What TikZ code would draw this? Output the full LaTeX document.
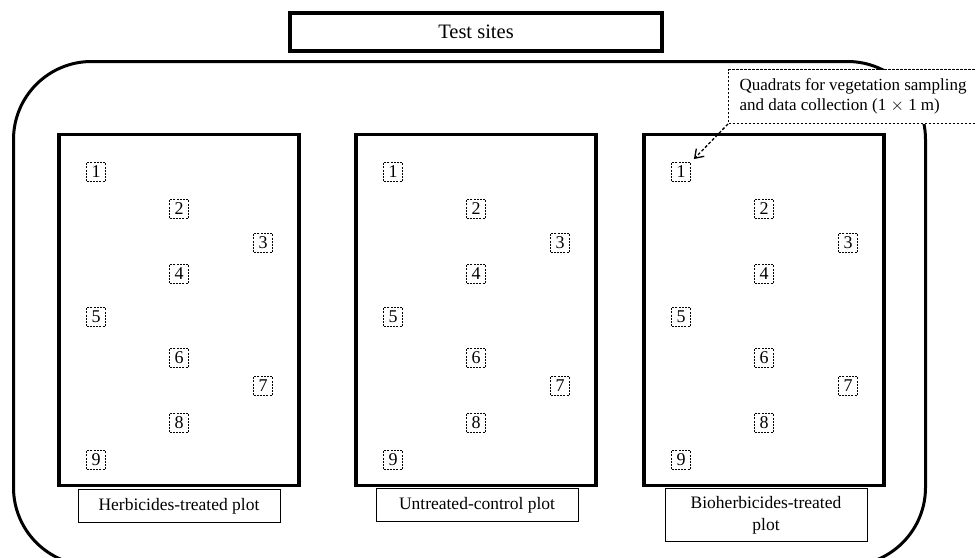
\documentclass[tikz,border=0pt]{standalone}
\usepackage{fontspec}
\setmainfont{Liberation Serif}
\usetikzlibrary{arrows.meta}
\begin{document}
\begin{tikzpicture}[x=1pt,y=-1pt,
  sitebox/.style={draw,line width=3pt,rounded corners=78pt,minimum width=912pt,minimum height=504pt,anchor=north west,inner sep=0pt},
  titlebox/.style={draw,line width=3.5pt,minimum width=372pt,minimum height=38pt,inner sep=0pt,font=\fontsize{20.5}{24}\selectfont},
  plotbox/.style={draw,line width=3.5pt,minimum width=240pt,minimum height=351pt,inner sep=0pt},
  quad/.style={draw,dash pattern=on 2pt off 1.2pt,line width=1.2pt,minimum size=19pt,inner sep=0pt,font=\fontsize{18}{18}\selectfont},
  labelbox/.style={draw,line width=1pt,fill=white,anchor=north,minimum width=202pt,inner sep=0pt,align=center,font=\fontsize{17.5}{22}\selectfont},
  calloutbox/.style={draw,dash pattern=on 2.5pt off 1.5pt,line width=1pt,fill=white,anchor=north west,minimum height=54pt,text width=240pt,inner xsep=11pt,inner ysep=0pt,align=flush left,font=\fontsize{17}{20}\selectfont},
  pointer/.style={dash pattern=on 3pt off 2pt,line width=1.3pt,-{Straight Barb[length=8pt,width=11pt]}}
]
\useasboundingbox (0,0) rectangle (976,557);
\fill[white] (0,0) rectangle (976,557);

\node[sitebox] (site) at (12,60) {};
\node[titlebox] (title) at (476,32) {Test sites};

% label boxes (drawn before plots so the thick plot borders lie on top)
\node[labelbox,minimum height=33pt] (lab1) at (179,489) {Herbicides-treated plot};
\node[labelbox,minimum height=33pt] (lab2) at (477,488) {Untreated-control plot};
\node[labelbox,minimum height=53pt] (lab3) at (766,488) {Bioherbicides-treated\\plot};

% plots and quadrats
\foreach \p/\cx in {1/179, 2/476, 3/764} {
  \node[plotbox] (plot\p) at (\cx,310) {};
  \foreach \q/\dx/\y in {1/-83/172, 2/0/209, 3/84/243, 4/0/274, 5/-83/317, 6/0/358, 7/84/386, 8/0/423, 9/-83/460} {
    \node[quad] (q\p-\q) at (\cx+\dx,\y) {\q};
  }
}

% callout
\node[calloutbox] (callout) at (728,69) {Quadrats for vegetation sampling\\and data collection (1 $\times$ 1 m)};
\draw[pointer,shorten >=4pt] (callout.south west) -- (q3-1.north east);
\end{tikzpicture}
\end{document}
